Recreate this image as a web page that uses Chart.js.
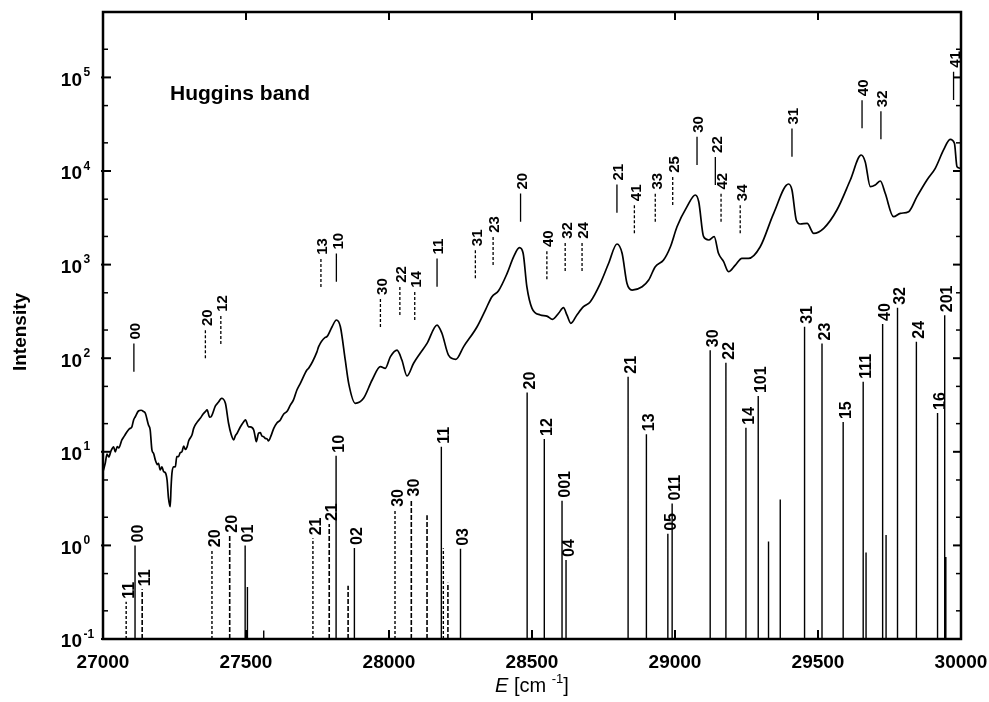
<!DOCTYPE html>
<html>
<head>
<meta charset="utf-8">
<script src="https://cdn.jsdelivr.net/npm/chart.js@4.4.1/dist/chart.umd.min.js"></script>
<style>
  html, body { margin: 0; padding: 0; background: #fff; }
  #wrap { width: 989px; height: 702px; }
</style>
</head>
<body>
<div id="wrap"><canvas id="c" width="989" height="702"></canvas></div>
<script>
// ---------- DATA ----------
// measured spectrum (E in cm^-1, intensity)
const specE = [27000,27008,27014,27020,27028,27037,27043,27050,27055,27066,
  27075,27084,27092,27101,27107,27113,27124,27133,27142,27148,
  27159,27165,27171,27177,27183,27190,27194,27200,27206,27212,
  27218,27224,27229,27235,27238,27241,27247,27253,27258,27264,
  27270,27276,27282,27288,27294,27300,27311,27317,27328,27340,
  27350,27358,27364,27373,27378,27393,27404,27414,27428,27439,
  27448,27457,27463,27469,27480,27492,27498,27509,27515,27527,
  27532,27536,27544,27550,27556,27562,27567,27573,27579,27588,
  27597,27608,27620,27632,27643,27655,27666,27678,27690,27713,
  27719,27748,27754,27777,27783,27801,27816,27830,27847,27859,
  27882,27911,27941,27970,27987,28005,28028,28045,28063,28086,
  28109,28133,28168,28185,28208,28234,28261,28308,28337,28360,
  28383,28413,28436,28456,28469,28482,28500,28529,28552,28572,
  28593,28610,28622,28636,28657,28680,28704,28739,28768,28797,
  28815,28832,28850,28885,28908,28931,28960,28984,29007,29042,
  29071,29083,29100,29118,29137,29152,29170,29187,29211,29234,
  29257,29298,29345,29397,29409,29424,29438,29462,29485,29520,
  29566,29613,29651,29665,29683,29700,29718,29735,29764,29788,
  29817,29846,29881,29910,29939,29962,29977,29986,29998];
const specI = [6.13,7.6,9.47,8.8,10.2,11.3,10.0,11.4,11.0,13.4,
  14.8,16.4,17.6,18.5,21.9,23.7,27.3,27.8,26.9,25.8,
  19.3,17.1,10.5,9.6,8.17,7.3,7.54,6.39,6.9,6.13,
  5.98,5.0,3.19,2.59,4.2,5.89,6.9,6.93,8.9,8.87,
  9.8,10.0,11.5,10.6,11.3,13.2,15.1,17.8,20.5,22.8,
  25.3,26.9,28.0,23.4,23.7,30.9,34,37.3,33.0,20.2,
  15.4,13.4,14.9,15.8,18.4,21.0,21.9,18.5,18.5,17.1,
  14.5,12.8,15.8,16.0,14.7,14.5,13.9,13.8,13.1,15.0,
  17.8,20.3,21.9,25.4,26.9,31.5,35.8,45.7,53.9,74.8,
  78.0,117,133,167,170,217,256,217,95.7,53.9,
  33.0,37.3,58.5,81.2,78.0,104,122,95.7,64.6,88.3,
  113,144,226,185,108,97.3,133,217,327,454,
  526,807,1216,1517,1321,581,341,290,282,260,
  302,347,290,236,290,355,402,631,1033,1660,
  1321,631,535,581,685,950,1120,1553,2541,4159,
  5546,4699,1986,1832,1986,1321,1074,840,990,1167,
  1167,1553,3532,7262,6266,2999,2716,2761,2160,2443,
  3831,8017,14830,12590,6796,7080,7822,5777,3250,3532,
  3675,5318,8017,10690,16790,21830,19770,11120,10690];

// calculated stick spectrum
const stickE = [27081,27112,27137,27381,27443,27497,27505,27562,27734,27791,
  27815,27857,27879,28021,28078,28133,28183,28190,28206,28250,
  28483,28543,28605,28619,28836,28900,28975,28990,29123,29178,
  29248,29291,29327,29368,29453,29514,29588,29658,29668,29726,
  29738,29778,29844,29918,29943,29947];
const stickI = [0.25,1.0,0.34,0.89,1.27,1.0,0.36,0.123,1.19,1.69,
  9.1,0.37,0.94,2.4,3.1,2.1,11.3,0.93,0.40,0.92,
  43,13.7,3.0,0.70,63.5,15.4,1.33,2.8,122,89.5,
  18.1,39.4,1.1,3.1,217,144,20.8,56,0.84,232,
  1.29,345,150,26,288,0.75];
// transition kind: A = solid, B = short-dashed, C = long-dashed
const stickKind = ['B','A','C','B','C','A','A','A','B','C',
  'A','C','A','B','C','C','A','B','C','A',
  'A','A','A','A','A','A','A','A','A','A',
  'A','A','A','A','A','A','A','A','A','A',
  'A','A','A','A','A','A'];
const stickLabel = ['11','00','11','20','20','01','','','21','21',
  '10','','02','30','30','','11','','','03',
  '20','12','001','04','21','13','05','011','30','22',
  '14','101','','','31','23','15','111','','40',
  '','32','24','16','201',''];

// assignment markers above the measured spectrum
const markE = [27108,27358,27412,27762,27816,27970,28038,28090,28168,28302,
  28364,28460,28552,28616,28675,28797,28858,28931,28992,29077,
  29141,29161,29228,29409,29654,29720,29974];
const markBase = [71.8,99.8,142,577,656,215,290,256,581,714,
  990,2873,697,855,855,3588,2160,2873,4333,11590,
  7080,2873,2160,14220,28580,21820,57400];
const markKind = ['A','B','B','B','A','B','B','B','A','B',
  'B','A','B','B','B','A','B','B','B','A',
  'A','B','B','A','A','A','A'];
const markLabel = ['00','20','12','13','10','30','22','14','11','31',
  '23','20','40','32','24','21','41','33','25','30',
  '22','42','34','31','40','32','41'];

// axes
const xMin = 27000, xMax = 30000, xStep = 500;
const yMin = 0.1, yMax = 5e5;
const yDecades = [-1,0,1,2,3,4,5];
const yMinorFactors = [2,5];

const annotationText = 'Huggins band';
const yTitle = 'Intensity';

// ---------- BUILD ----------
const FF = '"Liberation Sans", Arial, Helvetica, sans-serif';
const MARK_FACTOR = 2; // marker line spans a factor 2 in intensity

function segments(E, lo, hi, kinds, kind) {
  const out = [];
  E.forEach((e, i) => {
    if (kinds[i] !== kind) return;
    const l = typeof lo === 'function' ? lo(i) : lo;
    const h = hi(i);
    out.push({x: e, y: l}, {x: e, y: h}, {x: e, y: null});
  });
  return out;
}

const specData = specE.map((e, i) => ({x: e, y: specI[i]}));

const lineDs = (data, width, dash, smooth) => ({
  data, borderColor: '#000', borderWidth: width, borderDash: dash,
  pointRadius: 0, pointHoverRadius: 0, fill: false,
  tension: smooth ? 0.4 : 0, cubicInterpolationMode: smooth ? 'monotone' : 'default',
  spanGaps: false
});

const datasets = [
  lineDs(specData, 1.7, [], true),
  lineDs(segments(stickE, yMin, i => stickI[i], stickKind, 'A'), 1.4, []),
  lineDs(segments(stickE, yMin, i => stickI[i], stickKind, 'B'), 1.4, [3, 2]),
  lineDs(segments(stickE, yMin, i => stickI[i], stickKind, 'C'), 1.6, [5, 2]),
  lineDs(segments(markE, i => markBase[i], i => markBase[i] * MARK_FACTOR, markKind, 'A'), 1.3, []),
  lineDs(segments(markE, i => markBase[i], i => markBase[i] * MARK_FACTOR, markKind, 'B'), 1.3, [3, 2])
];

function line(ctx, x1, y1, x2, y2) {
  ctx.beginPath(); ctx.moveTo(x1, y1); ctx.lineTo(x2, y2); ctx.stroke();
}

function vlabel(ctx, text, px, py, size, shift) {
  ctx.save();
  ctx.translate(px, py);
  ctx.rotate(-Math.PI / 2);
  ctx.font = 'bold ' + size + 'px ' + FF;
  ctx.textAlign = 'left';
  ctx.textBaseline = 'alphabetic';
  ctx.fillText(text, 0, size * 0.716 / 2 + shift);
  ctx.restore();
}

const decor = {
  id: 'decor',
  afterDatasetsDraw(chart) {
    const {ctx, chartArea: a, scales} = chart;
    const xs = scales.x, ys = scales.y;
    ctx.save();
    ctx.fillStyle = '#000';
    ctx.strokeStyle = '#000';

    // stick labels
    stickE.forEach((e, i) => {
      if (!stickLabel[i]) return;
      vlabel(ctx, stickLabel[i], xs.getPixelForValue(e), ys.getPixelForValue(stickI[i]) - 3, 16, 2);
    });
    // marker labels
    markE.forEach((e, i) => {
      vlabel(ctx, markLabel[i], xs.getPixelForValue(e), ys.getPixelForValue(markBase[i] * MARK_FACTOR) - 4, 15, 1);
    });

    // frame
    ctx.lineWidth = 2.5;
    ctx.strokeRect(a.left, a.top, a.right - a.left, a.bottom - a.top);

    // x ticks + labels
    ctx.lineWidth = 2;
    ctx.font = 'bold 19px ' + FF;
    ctx.textAlign = 'center';
    ctx.textBaseline = 'alphabetic';
    xs.ticks.forEach(t => {
      const px = xs.getPixelForValue(t.value);
      line(ctx, px, a.bottom, px, a.bottom - 9);
      line(ctx, px, a.top, px, a.top + 8);
      ctx.fillText(String(t.value), px, a.bottom + 29);
    });

    // y ticks + labels
    yDecades.forEach(d => {
      const v = Math.pow(10, d);
      const py = ys.getPixelForValue(v);
      ctx.lineWidth = 2;
      line(ctx, a.left - 2, py, a.left + 8, py);
      line(ctx, a.right - 8, py, a.right, py);
      ctx.lineWidth = 1.5;
      yMinorFactors.forEach(f => {
        const mv = v * f;
        if (mv > yMax) return;
        const mp = ys.getPixelForValue(mv);
        line(ctx, a.left - 1, mp, a.left + 5, mp);
        line(ctx, a.right - 5, mp, a.right, mp);
      });
      ctx.font = 'bold 19px ' + FF;
      ctx.textAlign = 'right';
      ctx.fillText('10', 82, py + 8.3);
      ctx.font = 'bold 12px ' + FF;
      ctx.textAlign = 'left';
      ctx.fillText(String(d), 83.5, py - 1.5);
    });

    // x title: E [cm-1]
    const base = 692;
    const parts = [
      {t: 'E', f: 'italic 20px ' + FF, dy: 0},
      {t: ' [cm ', f: '20px ' + FF, dy: 0},
      {t: '-1', f: '13px ' + FF, dy: -9},
      {t: ']', f: '20px ' + FF, dy: 0}
    ];
    let total = 0;
    parts.forEach(p => { ctx.font = p.f; p.w = ctx.measureText(p.t).width; total += p.w; });
    let cx = (a.left + a.right) / 2 - total / 2;
    ctx.textAlign = 'left';
    parts.forEach(p => { ctx.font = p.f; ctx.fillText(p.t, cx, base + p.dy); cx += p.w; });

    // y title
    ctx.save();
    ctx.translate(25.5, 332);
    ctx.rotate(-Math.PI / 2);
    ctx.font = 'bold 19px ' + FF;
    ctx.textAlign = 'center';
    ctx.fillText(yTitle, 0, 0);
    ctx.restore();

    // annotation
    ctx.font = 'bold 21px ' + FF;
    ctx.textAlign = 'left';
    ctx.fillText(annotationText, 170, 100);

    ctx.restore();
  }
};

new Chart(document.getElementById('c'), {
  type: 'line',
  data: {datasets},
  options: {
    responsive: false,
    animation: false,
    devicePixelRatio: 1,
    layout: {padding: {left: 103, right: 28, top: 12, bottom: 63}},
    plugins: {legend: {display: false}, tooltip: {enabled: false}},
    scales: {
      x: {
        type: 'linear', min: xMin, max: xMax,
        ticks: {display: false, stepSize: xStep},
        grid: {display: false, drawTicks: false},
        border: {display: false}
      },
      y: {
        type: 'logarithmic', min: yMin, max: yMax,
        ticks: {display: false},
        grid: {display: false, drawTicks: false},
        border: {display: false}
      }
    }
  },
  plugins: [decor]
});
</script>
</body>
</html>
